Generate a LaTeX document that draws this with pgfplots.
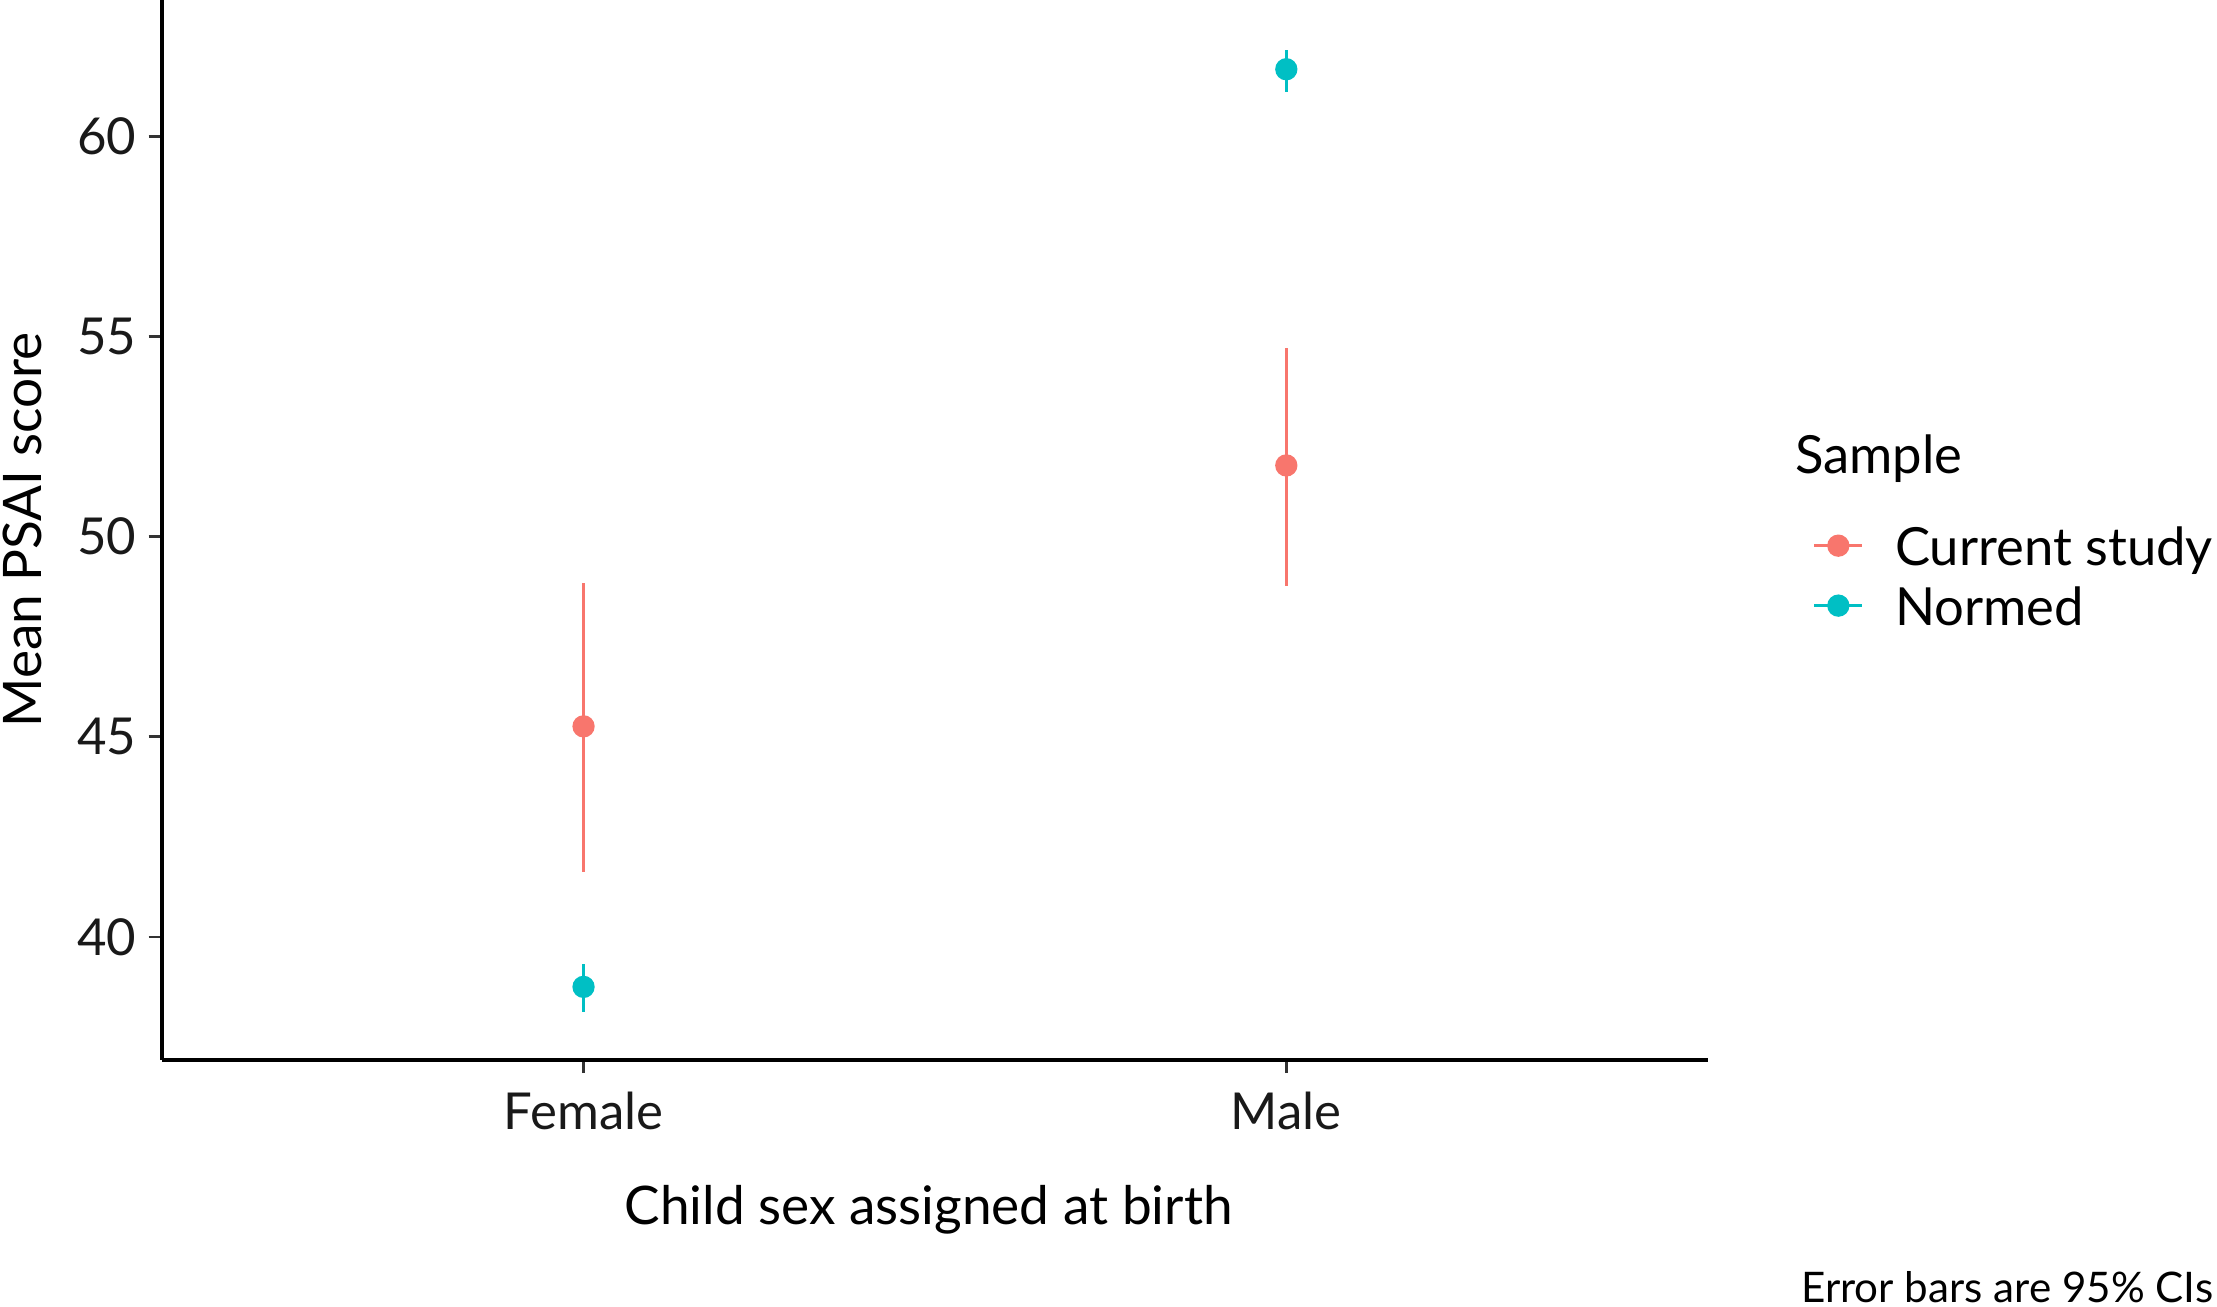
\documentclass[border=0pt]{standalone}
\usepackage{fontspec}
\setmainfont{Lato}
\usepackage{pgfplots}
\usepackage{pgfplotstable}
\pgfplotsset{compat=1.18}
\definecolor{cur}{HTML}{F8766D}
\definecolor{nrm}{HTML}{00BFC4}
\pgfplotstableread{
x y ep em
1 45.26 3.57 3.63
2 51.78 2.93 3.02
}\curdata
\pgfplotstableread{
x y ep em
1 38.75 0.57 0.62
2 61.68 0.49 0.57
}\nrmdata
\begin{document}
\begin{tikzpicture}
\path[use as bounding box] (-28.625pt,-43.625pt) rectangle (363.375pt,187.375pt);
\begin{axis}[
  at={(0pt,0pt)}, anchor=south west,
  width=273.375pt, height=187.375pt, scale only axis,
  xmin=0.4, xmax=2.6, ymin=36.93, ymax=63.41,
  axis x line*=bottom, axis y line*=left,
  axis line style={-, line width=0.71pt, black},
  xtick={1,2}, xticklabels={Female,Male},
  ytick={40,45,50,55,60},
  tick align=outside, major tick length=2.35pt,
  tick style={line width=0.47pt, color=black!80},
  /pgf/number format/assume math mode=true,
  ticklabel style={font=\fontsize{9.0pt}{10pt}\selectfont, text=black!90, inner sep=0pt},
  yticklabel style={xshift=-2.0pt},
  xticklabel style={yshift=-3.2pt},
  xlabel={Child sex assigned at birth},
  ylabel={Mean PSAI score},
  every axis x label/.style={at={(axis description cs:0.496,0)}, anchor=base, yshift=-29.1pt,
    font=\fontsize{9.4pt}{11pt}\selectfont, inner sep=0pt},
  every axis y label/.style={at={(axis description cs:0,0.5)}, rotate=90, anchor=base, yshift=21.25pt,
    font=\fontsize{9.4pt}{11pt}\selectfont, inner sep=0pt},
  legend style={at={(axis description cs:1.0677,0.4568)}, anchor=west, draw=none, fill=none,
    inner sep=0pt, outer sep=0pt, row sep=3.6pt, column sep=5.5pt,
    font=\fontsize{9.3pt}{11pt}\selectfont,
    nodes={inner sep=0pt, text height=7pt, text depth=0pt}},
  legend cell align=left,
  legend image code/.code={
    \draw[#1, line width=0.59pt] (0pt,0pt) -- (8.5pt,0pt);
    \fill[#1] (4.25pt,0pt) circle[radius=1.77pt];
  },
]
\addplot[only marks, mark=*, mark size=1.77pt, color=cur, mark options={draw=none, fill=cur},
  error bars/.cd, y dir=both, y explicit, error mark=none,
  error bar style={line width=0.59pt, color=cur}]
  table[x=x, y=y, y error plus=ep, y error minus=em]{\curdata};
\addplot[only marks, mark=*, mark size=1.77pt, color=nrm, mark options={draw=none, fill=nrm},
  error bars/.cd, y dir=both, y explicit, error mark=none,
  error bar style={line width=0.59pt, color=nrm}]
  table[x=x, y=y, y error plus=ep, y error minus=em]{\nrmdata};
\addlegendimage{color=cur}
\addlegendentry{Current study}
\addlegendimage{color=nrm}
\addlegendentry{Normed}
\end{axis}
\node[anchor=base west, inner sep=0pt, font=\fontsize{9.3pt}{11pt}\selectfont] at (288.6pt,103.7pt) {Sample};
\node[anchor=base east, inner sep=0pt, font=\fontsize{7.45pt}{9pt}\selectfont] at (362.9pt,-42.9pt) {Error bars are 95\% CIs};
\end{tikzpicture}
\end{document}
